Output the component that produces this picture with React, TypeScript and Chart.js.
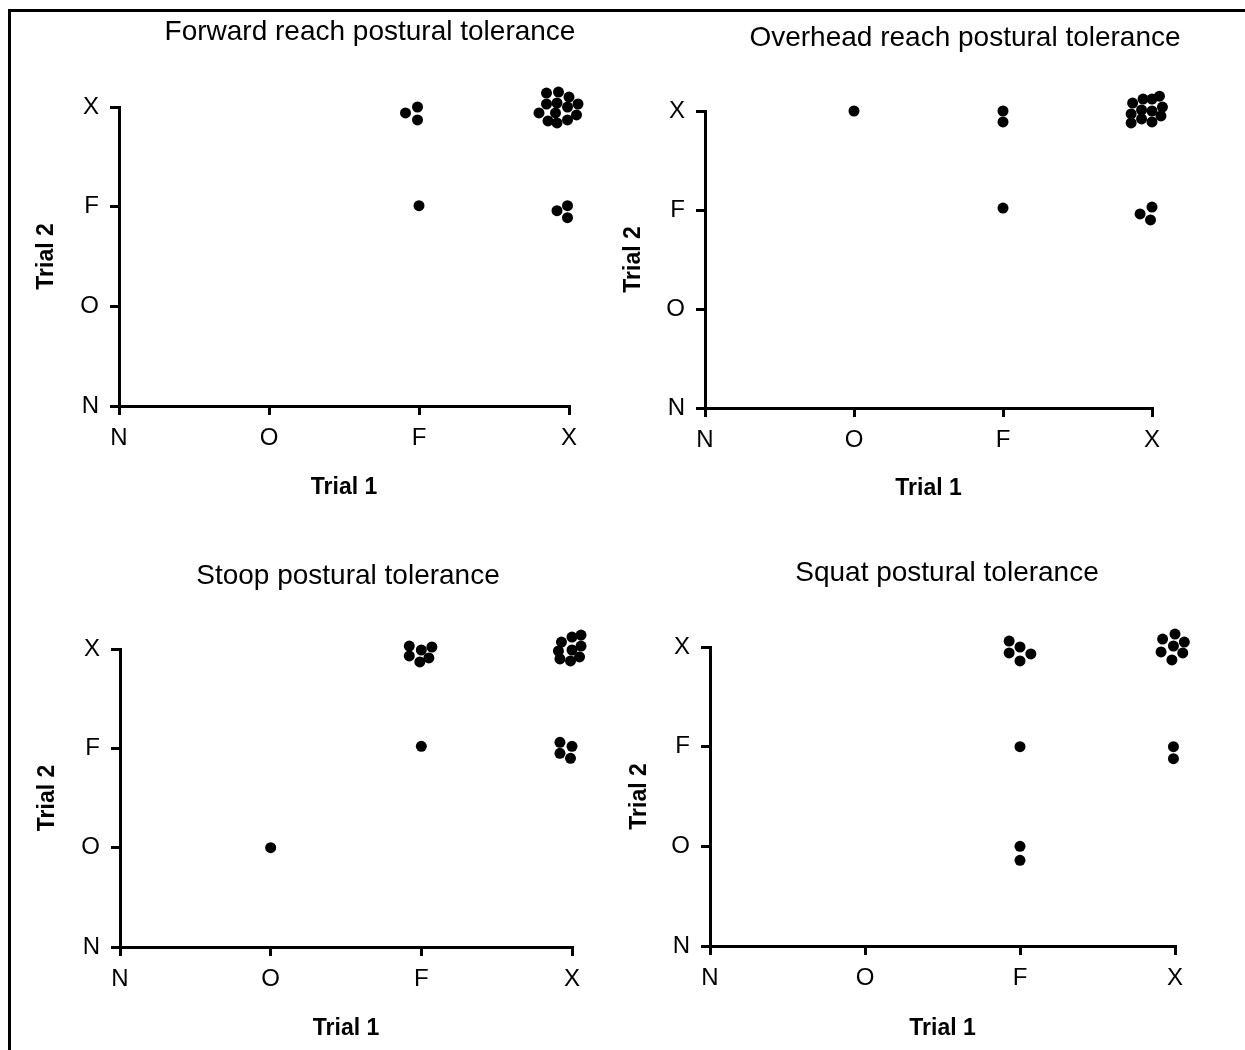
import React, { useEffect, useRef } from "react";
import { Chart, registerables, PointElement } from "chart.js";

Chart.register(...registerables);

// Let points that sit just outside the axis range (jittered dots beyond "X") still be drawn
// by the library's own point element, as in the reference figure.
const basePointDraw = (PointElement.prototype as any).draw;
(PointElement.prototype as any).draw = function (ctx: CanvasRenderingContext2D) {
  return basePointDraw.call(this, ctx, undefined);
};

// ---------- data ----------
const levelLabels = ["N", "O", "F", "X"];
const xAxisTitle = "Trial 1";
const yAxisTitle = "Trial 2";
const panelTitles = [
  "Forward reach postural tolerance",
  "Overhead reach postural tolerance",
  "Stoop postural tolerance",
  "Squat postural tolerance",
];

// Forward reach (jittered category scores: 0=N, 1=O, 2=F, 3=X)
const forwardTrial1 = [1.91, 1.99, 1.99, 2.0, 2.92, 2.99, 2.99, 2.85, 2.93, 3.0, 2.85, 2.92, 2.99, 3.06, 2.8, 2.91, 3.05, 2.86, 2.92, 2.99];
const forwardTrial2 = [2.94, 3.0, 2.87, 2.01, 1.96, 2.01, 1.89, 3.14, 3.15, 3.1, 3.03, 3.04, 3.0, 3.03, 2.94, 2.94, 2.92, 2.86, 2.84, 2.87];

// Overhead reach
const overheadTrial1 = [1.0, 2.0, 2.0, 2.0, 2.92, 3.0, 2.99, 2.87, 2.94, 3.0, 3.05, 2.86, 2.93, 3.0, 3.07, 2.86, 2.93, 3.0, 3.06];
const overheadTrial2 = [3.0, 3.0, 2.89, 2.02, 1.96, 2.03, 1.9, 3.08, 3.12, 3.12, 3.15, 2.97, 3.01, 3.0, 3.04, 2.88, 2.92, 2.89, 2.95];

// Stoop
const stoopTrial1 = [1.0, 1.92, 2.0, 2.07, 1.92, 2.05, 1.99, 2.0, 2.93, 3.0, 3.06, 2.91, 3.0, 3.06, 2.92, 2.99, 3.05, 2.92, 3.0, 2.92, 2.99];
const stoopTrial2 = [1.0, 3.03, 2.99, 3.02, 2.93, 2.91, 2.87, 2.02, 3.07, 3.12, 3.14, 2.98, 2.99, 3.03, 2.9, 2.88, 2.92, 2.06, 2.02, 1.95, 1.9];

// Squat
const squatTrial1 = [1.93, 2.0, 1.93, 2.07, 2.0, 2.0, 2.0, 2.0, 2.92, 3.0, 3.06, 2.91, 2.99, 3.05, 2.98, 2.99, 2.99];
const squatTrial2 = [3.06, 3.0, 2.94, 2.93, 2.86, 2.0, 1.0, 0.86, 3.08, 3.13, 3.05, 2.95, 3.01, 2.94, 2.87, 2.0, 1.88];

const panelData = [
  [forwardTrial1, forwardTrial2],
  [overheadTrial1, overheadTrial2],
  [stoopTrial1, stoopTrial2],
  [squatTrial1, squatTrial2],
];

// ---------- layout (page pixels) ----------
const panelLayouts = [
  { cl: 119, cr: 569, ct: 107, cb: 406, tx: 370, ty: 32, xty: 488, ytx: 47 },
  { cl: 705, cr: 1152, ct: 111, cb: 408, tx: 965, ty: 38, xty: 489, ytx: 634 },
  { cl: 120, cr: 572, ct: 649, cb: 947, tx: 348, ty: 576, xty: 1029, ytx: 48 },
  { cl: 710, cr: 1175, ct: 647, cb: 946, tx: 947, ty: 573, xty: 1029, ytx: 640 },
];

const FAMILY = "'Liberation Sans', Arial, Helvetica, sans-serif";
const TITLE_SIZE = 28;
const TICK_SIZE = 24;
const AXIS_TITLE_SIZE = 23;
const LH = 1.2;
const TICK_LEN = 9;
const Y_W = 90;

function geometry(i: number) {
  const p = panelLayouts[i];
  const Lc = p.cl - Y_W;
  const W = Math.round(2 * (p.tx - Lc));
  const rW = Lc + W - p.cr;
  const yTitlePad = p.ytx - Lc - (AXIS_TITLE_SIZE * LH) / 2;
  const titleHalf = (TITLE_SIZE * LH) / 2;
  const Tc = Math.round(p.ty - titleHalf - 4);
  const titlePadTop = p.ty - Tc - titleHalf;
  const titlePadBottom = p.ct - Tc - TITLE_SIZE * LH - titlePadTop;
  const bottom = Math.round(p.xty + (AXIS_TITLE_SIZE * LH) / 2 + 4);
  const xTitlePadBottom = bottom - p.xty - (AXIS_TITLE_SIZE * LH) / 2;
  const xH = bottom - p.cb;
  const H = bottom - Tc;
  return { Lc, W, rW, yTitlePad, Tc, titlePadTop, titlePadBottom, xTitlePadBottom, xH, H };
}

function axisCommon() {
  return {
    type: "linear" as const,
    min: 0,
    max: 3,
    grid: {
      display: true,
      drawOnChartArea: false,
      drawTicks: true,
      tickLength: TICK_LEN,
      tickWidth: 3,
      tickColor: "#000",
      color: "#000",
      lineWidth: 3,
    },
    border: { display: true, width: 3, color: "#000" },
  };
}

function Panel({ index }: { index: number }) {
  const ref = useRef<HTMLCanvasElement | null>(null);
  const g = geometry(index);

  useEffect(() => {
    if (!ref.current) return;
    const [xs, ys] = panelData[index];
    const points = xs.map((x, k) => ({ x, y: ys[k] }));
    const chart = new Chart(ref.current, {
      type: "scatter",
      data: {
        datasets: [
          {
            data: points,
            xAxisID: "x",
            yAxisID: "y",
            pointRadius: 5.5,
            pointHoverRadius: 5.5,
            backgroundColor: "#000",
            borderColor: "#000",
            borderWidth: 0,
            clip: false,
          },
        ],
      },
      options: {
        responsive: false,
        animation: false,
        devicePixelRatio: 1,
        events: [],
        layout: { padding: 0 },
        plugins: {
          legend: { display: false },
          tooltip: { enabled: false },
          title: {
            display: true,
            text: panelTitles[index],
            color: "#000",
            font: { family: FAMILY, size: TITLE_SIZE, weight: "normal", lineHeight: LH },
            padding: { top: g.titlePadTop, bottom: g.titlePadBottom },
          },
        },
        scales: {
          x: {
            ...axisCommon(),
            position: "bottom",
            ticks: {
              stepSize: 1,
              color: "#000",
              padding: 9,
              font: { family: FAMILY, size: TICK_SIZE, lineHeight: LH },
              callback: (v: any) => levelLabels[Number(v)] ?? "",
              maxRotation: 0,
              autoSkip: false,
            },
            title: {
              display: true,
              text: xAxisTitle,
              color: "#000",
              font: { family: FAMILY, size: AXIS_TITLE_SIZE, weight: "bold", lineHeight: LH },
              padding: { top: 0, bottom: g.xTitlePadBottom },
            },
            afterFit: (s: any) => {
              s.height = g.xH;
            },
          },
          y: {
            ...axisCommon(),
            position: "left",
            ticks: {
              stepSize: 1,
              color: "#000",
              padding: 11,
              font: { family: FAMILY, size: TICK_SIZE, lineHeight: LH },
              callback: (v: any) => levelLabels[Number(v)] ?? "",
              autoSkip: false,
            },
            title: {
              display: true,
              text: yAxisTitle,
              color: "#000",
              font: { family: FAMILY, size: AXIS_TITLE_SIZE, weight: "bold", lineHeight: LH },
              padding: { top: g.yTitlePad, bottom: 0 },
            },
            afterFit: (s: any) => {
              s.width = Y_W;
            },
          },
          yPad: {
            type: "linear",
            position: "right",
            min: 0,
            max: 1,
            display: true,
            grid: { display: false, drawTicks: false },
            border: { display: false },
            ticks: { display: false },
            title: { display: false },
            afterFit: (s: any) => {
              s.width = g.rW;
            },
          },
        },
      } as any,
    });
    return () => chart.destroy();
  }, [index]);

  return (
    <canvas
      ref={ref}
      width={g.W}
      height={g.H}
      style={{ position: "absolute", left: g.Lc, top: g.Tc, width: g.W, height: g.H, display: "block" }}
    />
  );
}

export default function App() {
  return (
    <div
      style={{
        position: "absolute",
        left: 0,
        top: 0,
        width: 1245,
        height: 1050,
        overflow: "hidden",
        background: "#fff",
      }}
    >
      <div
        style={{
          position: "absolute",
          left: 8,
          top: 9,
          width: 1245 - 8,
          height: 1050 - 9,
          borderTop: "3px solid #000",
          borderLeft: "3px solid #000",
          boxSizing: "border-box",
        }}
      />
      {panelLayouts.map((_, i) => (
        <Panel key={i} index={i} />
      ))}
    </div>
  );
}
